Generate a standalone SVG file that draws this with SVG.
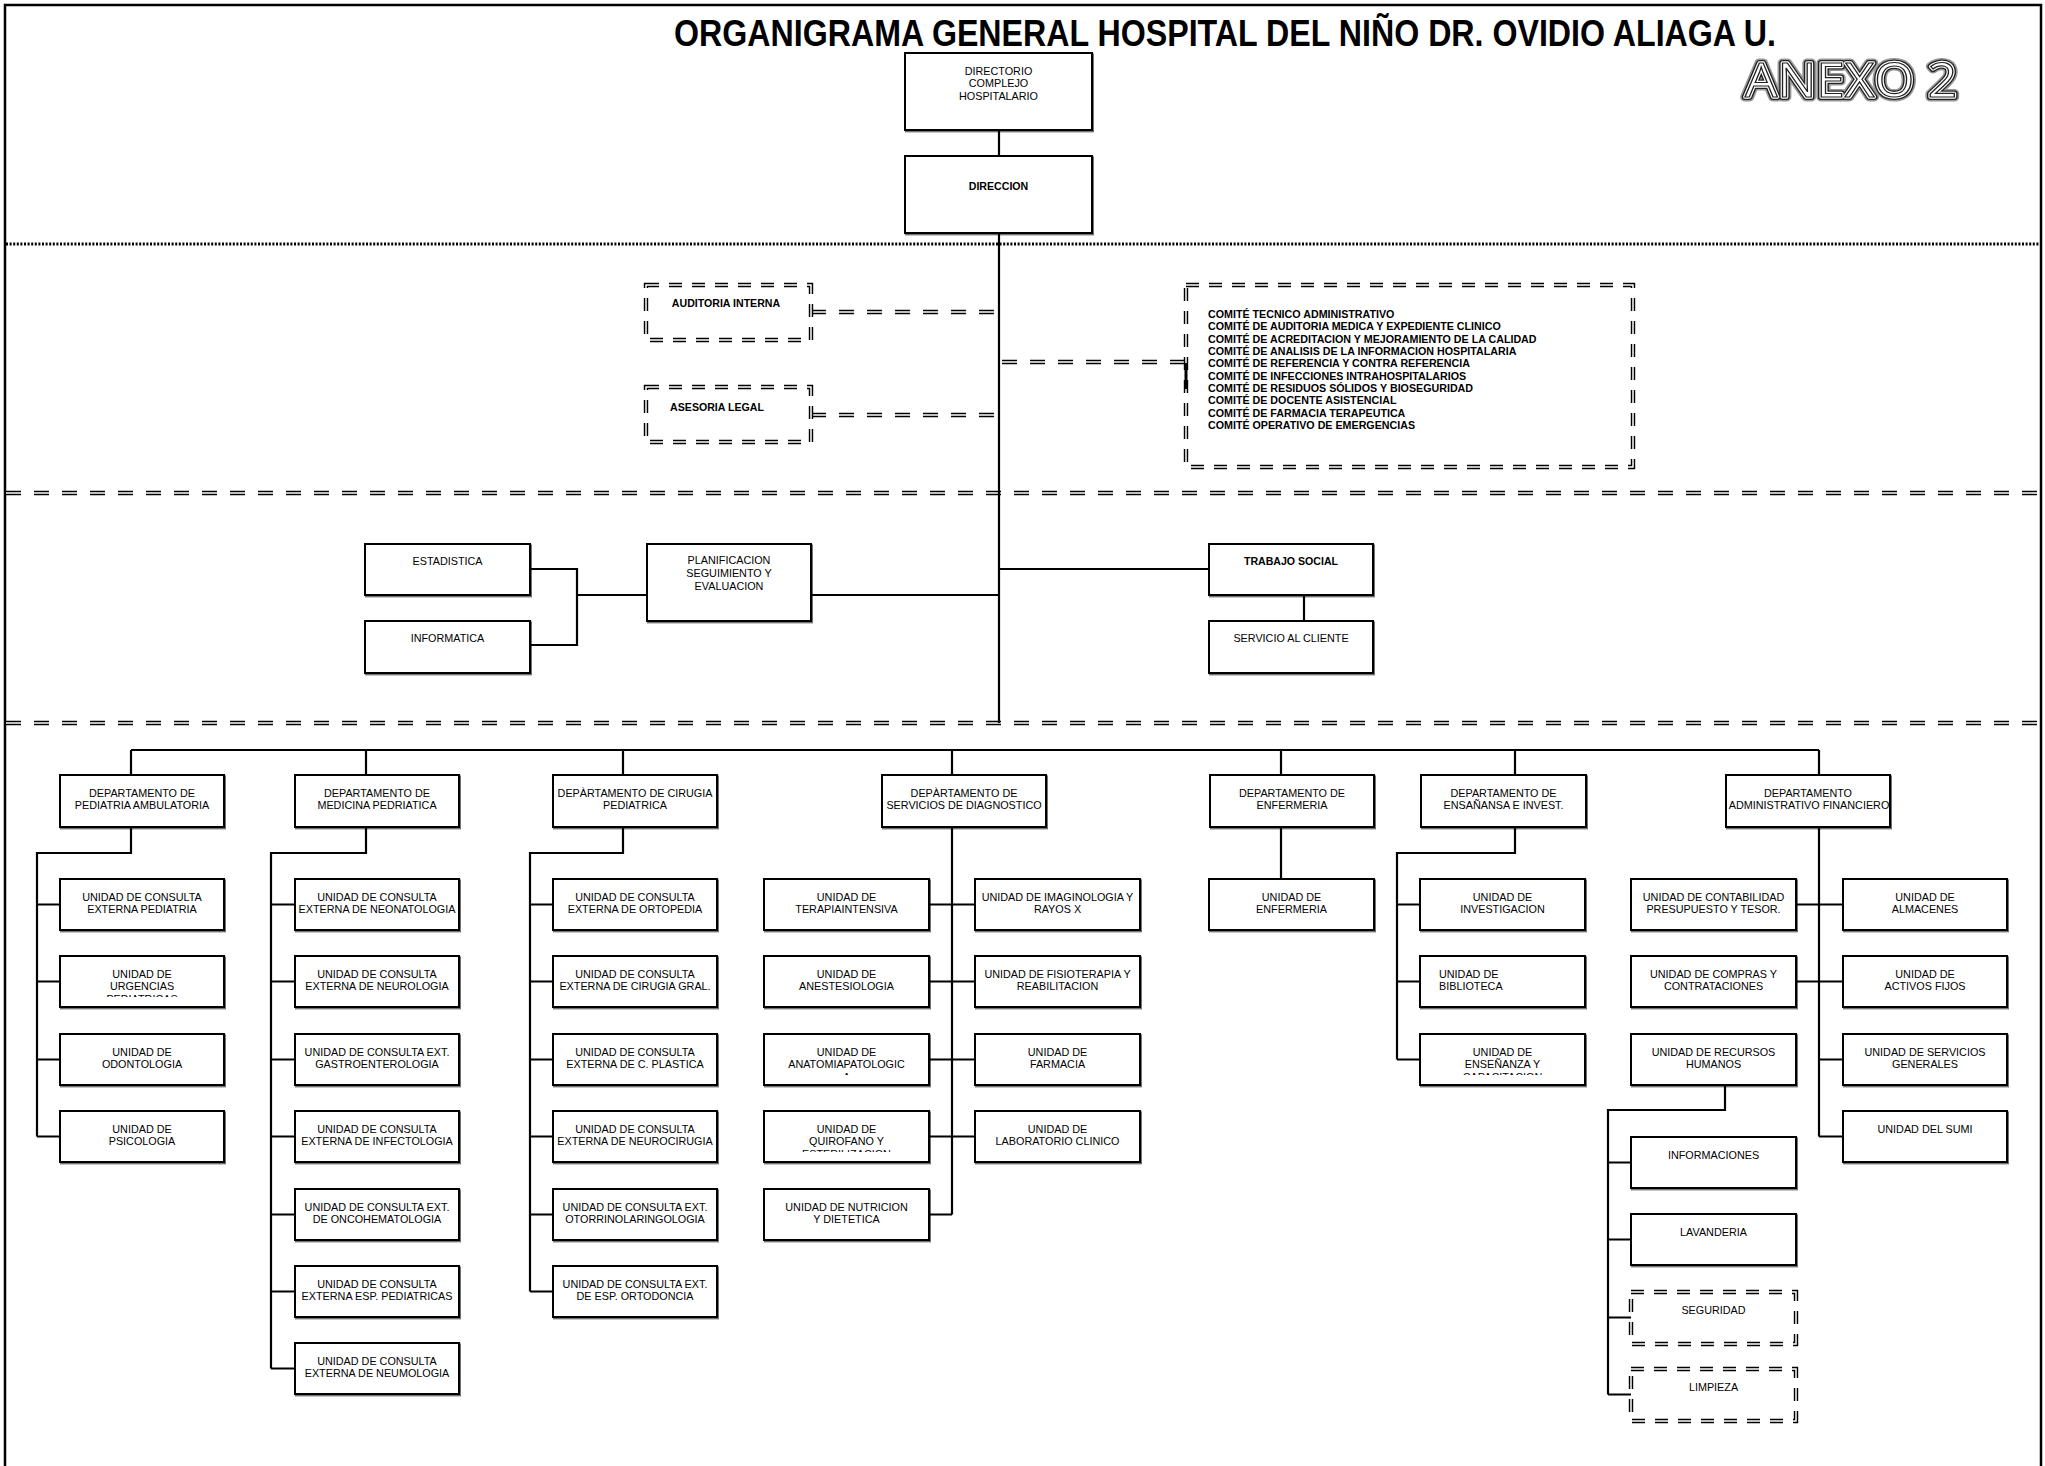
<svg xmlns="http://www.w3.org/2000/svg" width="2045" height="1466" viewBox="0 0 2045 1466" xml:space="preserve">
<defs>
<style>
text{font-family:"Liberation Sans",Arial,sans-serif;fill:#000}
.t{font-size:10.8px;text-anchor:middle}
.tb{font-size:10.6px;font-weight:bold;text-anchor:middle}
.cm{font-size:10.7px;font-weight:bold}
.b{fill:#fff;stroke:#000;stroke-width:2;filter:url(#sh)}
.ln{fill:none;stroke:#000;stroke-width:2.2}
.sd1{fill:none;stroke:#000;stroke-width:4.6;stroke-dasharray:15 13}
.sd2{fill:none;stroke:#fff;stroke-width:1.6;stroke-dasharray:15 13}
.bd1{fill:#fff;stroke:#000;stroke-width:4.4;stroke-dasharray:13 10}
.bd2{fill:none;stroke:#fff;stroke-width:1.5;stroke-dasharray:13 10}
.dot{fill:none;stroke:#000;stroke-width:3;stroke-dasharray:2 1.6}
</style>
<filter id="sh" x="-5%" y="-10%" width="115%" height="130%">
<feDropShadow dx="1" dy="1.4" stdDeviation="0.4" flood-color="#000" flood-opacity="0.55"/>
</filter>
<clipPath id="cpUrg"><rect x="60" y="956" width="164" height="41"/></clipPath>
<clipPath id="cpAna"><rect x="764" y="1034" width="165" height="41"/></clipPath>
<clipPath id="cpQui"><rect x="764" y="1111" width="165" height="41"/></clipPath>
<clipPath id="cpEns"><rect x="1420" y="1034" width="165" height="41"/></clipPath>
<clipPath id="cpAdm"><rect x="1726" y="775" width="164" height="52"/></clipPath>
</defs>
<rect x="0" y="0" width="2045" height="1466" fill="#fff"/>
<rect x="5" y="5" width="2036" height="1475" fill="none" stroke="#000" stroke-width="2.5"/>

<g id="title">
<text x="674" y="46" font-size="36" font-weight="bold" textLength="1102" lengthAdjust="spacingAndGlyphs">ORGANIGRAMA GENERAL HOSPITAL DEL NIÑO DR. OVIDIO ALIAGA U.</text>
</g>
<g id="anexo" font-family="'Open Sans','Liberation Sans',sans-serif" font-size="47">
<text x="1745" y="97" textLength="212" lengthAdjust="spacingAndGlyphs" style="font-family:'Open Sans','Liberation Sans',sans-serif;fill:none;stroke:#999;stroke-width:9;stroke-linejoin:round">ANEXO 2</text>
<text x="1745" y="97" textLength="212" lengthAdjust="spacingAndGlyphs" style="font-family:'Open Sans','Liberation Sans',sans-serif;fill:none;stroke:#222;stroke-width:6;stroke-linejoin:round">ANEXO 2</text>
<text x="1745" y="97" textLength="212" lengthAdjust="spacingAndGlyphs" style="font-family:'Open Sans','Liberation Sans',sans-serif;fill:none;stroke:#fff;stroke-width:3.4;stroke-linejoin:round">ANEXO 2</text>
<text x="1745" y="97" textLength="212" lengthAdjust="spacingAndGlyphs" style="font-family:'Open Sans','Liberation Sans',sans-serif;fill:#fff;stroke:#222;stroke-width:1.2">ANEXO 2</text>
</g>

<g id="separators">
<line class="dot" x1="6" y1="244" x2="2040" y2="244"/>
<line class="sd1" x1="6" y1="493" x2="2040" y2="493"/>
<line class="sd2" x1="6" y1="493" x2="2040" y2="493"/>
<line class="sd1" x1="6" y1="723" x2="2040" y2="723"/>
<line class="sd2" x1="6" y1="723" x2="2040" y2="723"/>
</g>

<g id="connectors">
<path class="ln" d="M999 130V156M999 233V723"/>
<line class="sd1" x1="811" y1="312" x2="995" y2="312"/><line class="sd2" x1="811" y1="312" x2="995" y2="312"/>
<line class="sd1" x1="811" y1="415" x2="995" y2="415"/><line class="sd2" x1="811" y1="415" x2="995" y2="415"/>
<line class="sd1" x1="1002" y1="362" x2="1185" y2="362"/><line class="sd2" x1="1002" y1="362" x2="1185" y2="362"/>
<path class="ln" d="M530 569H577V645H530M577 595H647M811 595H999M999 569H1209M1304 595V621"/>
<path class="ln" d="M131 750H1819M131 750V775M366 750V775M623 750V775M952 750V775M1281 750V775M1515 750V775M1819 750V775"/>
<path class="ln" d="M131 827V853H37V1136.5M37 904.5H60M37 981.5H60M37 1059.5H60M37 1136.5H60"/>
<path class="ln" d="M366 827V853H271V1368.5M271 904.5H295M271 981.5H295M271 1059.5H295M271 1136.5H295M271 1214.5H295M271 1291.5H295M271 1368.5H295"/>
<path class="ln" d="M623 827V853H530V1291.5M530 904.5H553M530 981.5H553M530 1059.5H553M530 1136.5H553M530 1214.5H553M530 1291.5H553"/>
<path class="ln" d="M952 827V1214.5M929 904.5H975M929 981.5H975M929 1059.5H975M929 1136.5H975M929 1214.5H952"/>
<path class="ln" d="M1281 827V879"/>
<path class="ln" d="M1515 827V853H1397V1059.5M1397 904.5H1420M1397 981.5H1420M1397 1059.5H1420"/>
<path class="ln" d="M1819 827V1136.5M1796 904.5H1843M1796 981.5H1843M1819 1059.5H1843M1819 1136.5H1843"/>
<path class="ln" d="M1725 1085V1110H1608V1394.5M1608 1162.5H1631M1608 1239.5H1631M1608 1317.5H1631M1608 1394.5H1631"/>
</g>

<g id="directorio"><rect class="b" x="905" y="53" width="187" height="77"/>
<text class="t" x="998.5" y="74.5">DIRECTORIO</text><text class="t" x="998.5" y="87">COMPLEJO</text><text class="t" x="998.5" y="99.5">HOSPITALARIO</text></g>
<g id="direccion"><rect class="b" x="905" y="156" width="187" height="77"/><text class="tb" x="998.5" y="190">DIRECCION</text></g>

<g id="auditoria"><rect class="bd1" x="646" y="285" width="165" height="55"/><rect class="bd2" x="646" y="285" width="165" height="55"/>
<text class="tb" x="726" y="307">AUDITORIA INTERNA</text></g>
<g id="asesoria"><rect class="bd1" x="646" y="387" width="165" height="55"/><rect class="bd2" x="646" y="387" width="165" height="55"/>
<text class="tb" x="717" y="411">ASESORIA  LEGAL</text></g>
<g id="comites"><rect class="bd1" x="1186" y="285" width="447" height="182"/><rect class="bd2" x="1186" y="285" width="447" height="182"/>
<line x1="1186" y1="363" x2="1186" y2="389" stroke="#000" stroke-width="3"/>
<text class="cm" x="1208" y="318">COMITÉ TECNICO ADMINISTRATIVO</text>
<text class="cm" x="1208" y="330.3">COMITÉ DE AUDITORIA MEDICA Y EXPEDIENTE CLINICO</text>
<text class="cm" x="1208" y="342.7">COMITÉ DE ACREDITACION Y MEJORAMIENTO DE LA CALIDAD</text>
<text class="cm" x="1208" y="355">COMITÉ DE ANALISIS DE LA INFORMACION HOSPITALARIA</text>
<text class="cm" x="1208" y="367.4">COMITÉ DE REFERENCIA Y CONTRA REFERENCIA</text>
<text class="cm" x="1208" y="379.7">COMITÉ DE  INFECCIONES INTRAHOSPITALARIOS</text>
<text class="cm" x="1208" y="392">COMITÉ DE RESIDUOS SÓLIDOS Y BIOSEGURIDAD</text>
<text class="cm" x="1208" y="404.4">COMITÉ DE DOCENTE ASISTENCIAL</text>
<text class="cm" x="1208" y="416.7">COMITÉ DE FARMACIA TERAPEUTICA</text>
<text class="cm" x="1208" y="429">COMITÉ  OPERATIVO DE EMERGENCIAS</text>
</g>

<g id="estadistica"><rect class="b" x="365" y="544" width="165" height="51"/><text class="t" x="447.5" y="565">ESTADISTICA</text></g>
<g id="informatica"><rect class="b" x="365" y="621" width="165" height="52"/><text class="t" x="447.5" y="642">INFORMATICA</text></g>
<g id="planificacion"><rect class="b" x="647" y="544" width="164" height="77"/>
<text class="t" x="729" y="564">PLANIFICACION</text><text class="t" x="729" y="577">SEGUIMIENTO  Y</text><text class="t" x="729" y="590">EVALUACION</text></g>
<g id="trabajo-social"><rect class="b" x="1209" y="544" width="164" height="51"/><text class="tb" x="1291" y="565">TRABAJO SOCIAL</text></g>
<g id="servicio-cliente"><rect class="b" x="1209" y="621" width="164" height="52"/><text class="t" x="1291" y="642">SERVICIO AL CLIENTE</text></g>

<g id="dep-pediatria"><rect class="b" x="60" y="775" width="164" height="52"/><text class="t" x="142" y="797">DEPARTAMENTO DE</text><text class="t" x="142" y="809">PEDIATRIA AMBULATORIA</text></g>
<g id="dep-medicina"><rect class="b" x="295" y="775" width="164" height="52"/><text class="t" x="377" y="797">DEPARTAMENTO DE</text><text class="t" x="377" y="809">MEDICINA PEDRIATICA</text></g>
<g id="dep-cirugia"><rect class="b" x="553" y="775" width="164" height="52"/><text class="t" x="635" y="797">DEPÀRTAMENTO DE CIRUGIA</text><text class="t" x="635" y="809">PEDIATRICA</text></g>
<g id="dep-diagnostico"><rect class="b" x="882" y="775" width="164" height="52"/><text class="t" x="964" y="797">DEPÀRTAMENTO DE</text><text class="t" x="964" y="809">SERVICIOS  DE DIAGNOSTICO</text></g>
<g id="dep-enfermeria"><rect class="b" x="1210" y="775" width="164" height="52"/><text class="t" x="1292" y="797">DEPARTAMENTO DE</text><text class="t" x="1292" y="809">ENFERMERIA</text></g>
<g id="dep-ensenanza"><rect class="b" x="1421" y="775" width="165" height="52"/><text class="t" x="1503.5" y="797">DEPARTAMENTO DE</text><text class="t" x="1503.5" y="809">ENSAÑANSA E INVEST.</text></g>
<g id="dep-administrativo"><rect class="b" x="1726" y="775" width="164" height="52"/><g clip-path="url(#cpAdm)"><text class="t" x="1808" y="797">DEPARTAMENTO</text><text class="t" x="1809" y="809">ADMINISTRATIVO FINANCIERO</text></g></g>

<g id="c1-consulta"><rect class="b" x="60" y="879" width="164" height="51"/><text class="t" x="142" y="900.5">UNIDAD DE  CONSULTA</text><text class="t" x="142" y="913">EXTERNA PEDIATRIA</text></g>
<g id="c1-urgencias"><rect class="b" x="60" y="956" width="164" height="51"/><text class="t" x="142" y="977.5">UNIDAD DE</text><text class="t" x="142" y="990">URGENCIAS</text><text class="t" x="142" y="1002.5" clip-path="url(#cpUrg)">PEDIATRICAS</text></g>
<g id="c1-odontologia"><rect class="b" x="60" y="1034" width="164" height="51"/><text class="t" x="142" y="1055.5">UNIDAD DE</text><text class="t" x="142" y="1068">ODONTOLOGIA</text></g>
<g id="c1-psicologia"><rect class="b" x="60" y="1111" width="164" height="51"/><text class="t" x="142" y="1132.5">UNIDAD DE</text><text class="t" x="142" y="1145">PSICOLOGIA</text></g>

<g id="c2-neonatologia"><rect class="b" x="295" y="879" width="164" height="51"/><text class="t" x="377" y="900.5">UNIDAD DE CONSULTA</text><text class="t" x="377" y="913">EXTERNA DE NEONATOLOGIA</text></g>
<g id="c2-neurologia"><rect class="b" x="295" y="956" width="164" height="51"/><text class="t" x="377" y="977.5">UNIDAD DE CONSULTA</text><text class="t" x="377" y="990">EXTERNA DE NEUROLOGIA</text></g>
<g id="c2-gastro"><rect class="b" x="295" y="1034" width="164" height="51"/><text class="t" x="377" y="1055.5">UNIDAD DE CONSULTA EXT.</text><text class="t" x="377" y="1068">GASTROENTEROLOGIA</text></g>
<g id="c2-infectologia"><rect class="b" x="295" y="1111" width="164" height="51"/><text class="t" x="377" y="1132.5">UNIDAD DE CONSULTA</text><text class="t" x="377" y="1145">EXTERNA DE INFECTOLOGIA</text></g>
<g id="c2-onco"><rect class="b" x="295" y="1189" width="164" height="51"/><text class="t" x="377" y="1210.5">UNIDAD DE CONSULTA EXT.</text><text class="t" x="377" y="1223">DE  ONCOHEMATOLOGIA</text></g>
<g id="c2-esp"><rect class="b" x="295" y="1266" width="164" height="51"/><text class="t" x="377" y="1287.5">UNIDAD DE CONSULTA</text><text class="t" x="377" y="1300">EXTERNA  ESP. PEDIATRICAS</text></g>
<g id="c2-neumologia"><rect class="b" x="295" y="1343" width="164" height="51"/><text class="t" x="377" y="1364.5">UNIDAD DE CONSULTA</text><text class="t" x="377" y="1377">EXTERNA DE NEUMOLOGIA</text></g>

<g id="c3-ortopedia"><rect class="b" x="553" y="879" width="164" height="51"/><text class="t" x="635" y="900.5">UNIDAD DE CONSULTA</text><text class="t" x="635" y="913">EXTERNA DE ORTOPEDIA</text></g>
<g id="c3-cirugia"><rect class="b" x="553" y="956" width="164" height="51"/><text class="t" x="635" y="977.5">UNIDAD DE CONSULTA</text><text class="t" x="635" y="990">EXTERNA DE  CIRUGIA  GRAL.</text></g>
<g id="c3-plastica"><rect class="b" x="553" y="1034" width="164" height="51"/><text class="t" x="635" y="1055.5">UNIDAD DE CONSULTA</text><text class="t" x="635" y="1068">EXTERNA DE  C. PLASTICA</text></g>
<g id="c3-neurocirugia"><rect class="b" x="553" y="1111" width="164" height="51"/><text class="t" x="635" y="1132.5">UNIDAD DE CONSULTA</text><text class="t" x="635" y="1145">EXTERNA DE NEUROCIRUGIA</text></g>
<g id="c3-otorrino"><rect class="b" x="553" y="1189" width="164" height="51"/><text class="t" x="635" y="1210.5">UNIDAD DE CONSULTA EXT.</text><text class="t" x="635" y="1223">OTORRINOLARINGOLOGIA</text></g>
<g id="c3-ortodoncia"><rect class="b" x="553" y="1266" width="164" height="51"/><text class="t" x="635" y="1287.5">UNIDAD DE CONSULTA EXT.</text><text class="t" x="635" y="1300">DE ESP. ORTODONCIA</text></g>

<g id="c4-terapia"><rect class="b" x="764" y="879" width="165" height="51"/><text class="t" x="846.5" y="900.5">UNIDAD DE</text><text class="t" x="846.5" y="913">TERAPIAINTENSIVA</text></g>
<g id="c4-anestesiologia"><rect class="b" x="764" y="956" width="165" height="51"/><text class="t" x="846.5" y="977.5">UNIDAD DE</text><text class="t" x="846.5" y="990">ANESTESIOLOGIA</text></g>
<g id="c4-anatomia"><rect class="b" x="764" y="1034" width="165" height="51"/><text class="t" x="846.5" y="1055.5">UNIDAD DE</text><text class="t" x="846.5" y="1068">ANATOMIAPATOLOGIC</text><text class="t" x="846.5" y="1080.5" clip-path="url(#cpAna)">A</text></g>
<g id="c4-quirofano"><rect class="b" x="764" y="1111" width="165" height="51"/><text class="t" x="846.5" y="1132.5">UNIDAD DE</text><text class="t" x="846.5" y="1145">QUIROFANO Y</text><text class="t" x="846.5" y="1157.5" clip-path="url(#cpQui)">ESTERILIZACION</text></g>
<g id="c4-nutricion"><rect class="b" x="764" y="1189" width="165" height="51"/><text class="t" x="846.5" y="1210.5">UNIDAD DE NUTRICION</text><text class="t" x="846.5" y="1223">Y DIETETICA</text></g>
<g id="c4-imagen"><rect class="b" x="975" y="879" width="165" height="51"/><text class="t" x="1057.5" y="900.5">UNIDAD DE IMAGINOLOGIA Y</text><text class="t" x="1057.5" y="913">RAYOS X</text></g>
<g id="c4-fisio"><rect class="b" x="975" y="956" width="165" height="51"/><text class="t" x="1057.5" y="977.5">UNIDAD DE FISIOTERAPIA Y</text><text class="t" x="1057.5" y="990">REABILITACION</text></g>
<g id="c4-farmacia"><rect class="b" x="975" y="1034" width="165" height="51"/><text class="t" x="1057.5" y="1055.5">UNIDAD DE</text><text class="t" x="1057.5" y="1068">FARMACIA</text></g>
<g id="c4-laboratorio"><rect class="b" x="975" y="1111" width="165" height="51"/><text class="t" x="1057.5" y="1132.5">UNIDAD DE</text><text class="t" x="1057.5" y="1145">LABORATORIO CLINICO</text></g>

<g id="c5-enfermeria"><rect class="b" x="1209" y="879" width="165" height="51"/><text class="t" x="1291.5" y="900.5">UNIDAD DE</text><text class="t" x="1291.5" y="913">ENFERMERIA</text></g>

<g id="c6-investigacion"><rect class="b" x="1420" y="879" width="165" height="51"/><text class="t" x="1502.5" y="900.5">UNIDAD DE</text><text class="t" x="1502.5" y="913">INVESTIGACION</text></g>
<g id="c6-biblioteca"><rect class="b" x="1420" y="956" width="165" height="51"/><text class="t" x="1439" y="977.5" style="text-anchor:start">UNIDAD DE</text><text class="t" x="1439" y="990" style="text-anchor:start">BIBLIOTECA</text></g>
<g id="c6-ensenanza"><rect class="b" x="1420" y="1034" width="165" height="51"/><text class="t" x="1502.5" y="1055.5">UNIDAD DE</text><text class="t" x="1502.5" y="1068">ENSEÑANZA Y</text><text class="t" x="1502.5" y="1080.5" clip-path="url(#cpEns)">CAPACITACION</text></g>

<g id="c7-contabilidad"><rect class="b" x="1631" y="879" width="165" height="51"/><text class="t" x="1713.5" y="900.5">UNIDAD DE CONTABILIDAD</text><text class="t" x="1713.5" y="913">PRESUPUESTO Y TESOR.</text></g>
<g id="c7-compras"><rect class="b" x="1631" y="956" width="165" height="51"/><text class="t" x="1713.5" y="977.5">UNIDAD DE COMPRAS Y</text><text class="t" x="1713.5" y="990">CONTRATACIONES</text></g>
<g id="c7-rrhh"><rect class="b" x="1631" y="1034" width="165" height="51"/><text class="t" x="1713.5" y="1055.5">UNIDAD DE RECURSOS</text><text class="t" x="1713.5" y="1068">HUMANOS</text></g>
<g id="c7-almacenes"><rect class="b" x="1843" y="879" width="164" height="51"/><text class="t" x="1925" y="900.5">UNIDAD DE</text><text class="t" x="1925" y="913">ALMACENES</text></g>
<g id="c7-activos"><rect class="b" x="1843" y="956" width="164" height="51"/><text class="t" x="1925" y="977.5">UNIDAD DE</text><text class="t" x="1925" y="990">ACTIVOS FIJOS</text></g>
<g id="c7-servicios"><rect class="b" x="1843" y="1034" width="164" height="51"/><text class="t" x="1925" y="1055.5">UNIDAD DE SERVICIOS</text><text class="t" x="1925" y="1068">GENERALES</text></g>
<g id="c7-sumi"><rect class="b" x="1843" y="1111" width="164" height="51"/><text class="t" x="1925" y="1132.5">UNIDAD DEL  SUMI</text></g>

<g id="r-informaciones"><rect class="b" x="1631" y="1137" width="165" height="51"/><text class="t" x="1713.5" y="1158.5">INFORMACIONES</text></g>
<g id="r-lavanderia"><rect class="b" x="1631" y="1214" width="165" height="51"/><text class="t" x="1713.5" y="1235.5">LAVANDERIA</text></g>
<g id="r-seguridad"><rect class="bd1" x="1631" y="1292" width="165" height="52"/><rect class="bd2" x="1631" y="1292" width="165" height="52"/><text class="t" x="1713.5" y="1313.5">SEGURIDAD</text></g>
<g id="r-limpieza"><rect class="bd1" x="1631" y="1369" width="165" height="52"/><rect class="bd2" x="1631" y="1369" width="165" height="52"/><text class="t" x="1713.5" y="1390.5">LIMPIEZA</text></g>
</svg>
